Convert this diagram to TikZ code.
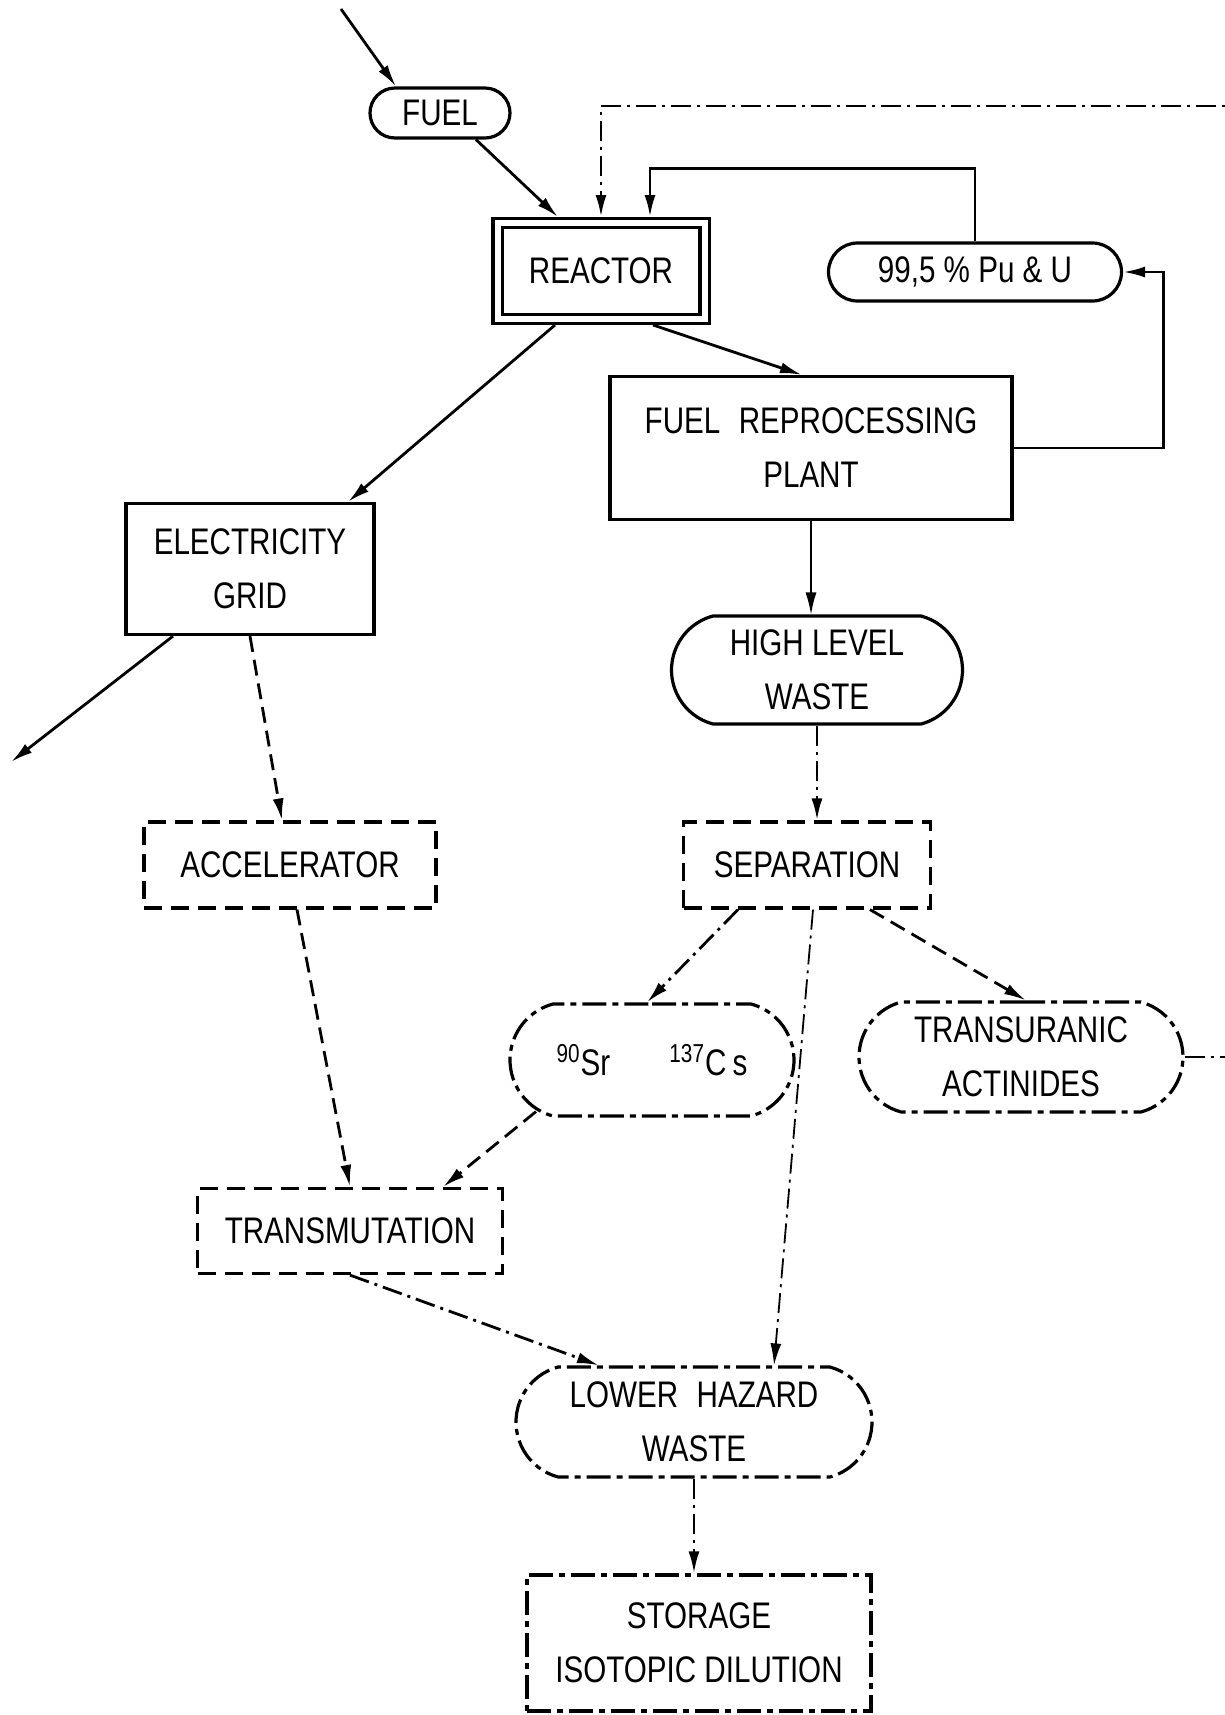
\documentclass[tikz,border=0pt]{standalone}
\usepackage{fontspec}
\setmainfont{Liberation Sans}[FakeStretch=0.8]
\usetikzlibrary{arrows.meta, shapes.misc}

\begin{document}
\begin{tikzpicture}[x=0.5pt,y=-0.5pt,
  box/.style={draw,line width=1.6pt,align=center,inner sep=0pt,
  font=\fontsize{18.5}{27}\selectfont},
  pill/.style={box,rounded rectangle},
  dbox/.style={box,dash pattern=on 9pt off 4.5pt},
  ddbox/.style={box,dash pattern=on 12pt off 3pt on 3pt off 3pt},
  arr/.style={line width=1.4pt,-{Latex[length=11pt,width=5.5pt]}},
  darr/.style={arr,dash pattern=on 8pt off 4pt},
  ddarr/.style={arr,dash pattern=on 10pt off 3pt on 1.5pt off 3pt},
]
\useasboundingbox (0,0) rectangle (1225,1715);

\node[pill,minimum width=70pt,minimum height=25pt] (fuel) at (440,113) {FUEL};
\node[box,double,line width=1.6pt,double distance=3pt,outer sep=3pt,
  minimum width=103.5pt,minimum height=48pt] (reactor) at (601,271) {REACTOR};
\node[pill,minimum width=146.5pt,minimum height=29pt] (pu) at (975,272) {99,5 \% Pu \& U};
\node[box,minimum width=201pt,minimum height=71.5pt] (frp) at (811,448)
  {FUEL\enspace REPROCESSING\\PLANT};
\node[box,minimum width=124pt,minimum height=65.5pt] (grid) at (250,569) {ELECTRICITY\\GRID};
\node[pill,rounded rectangle arc length=150,minimum width=145.5pt,minimum height=54pt]
  (hlw) at (817,670) {HIGH LEVEL\\WASTE};
\node[dbox,minimum width=146pt,minimum height=43pt] (acc) at (290,865) {ACCELERATOR};
\node[dbox,minimum width=123.5pt,minimum height=43pt] (sep) at (807,865) {SEPARATION};
\node[ddbox,rounded rectangle,rounded rectangle arc length=150,minimum width=142pt,
  minimum height=56pt] (srcs) at (652,1060)
  {\textsuperscript{90}Sr\hspace{1.6em}\textsuperscript{137}C\,s};
\node[ddbox,rounded rectangle,rounded rectangle arc length=150,minimum width=162pt,
  minimum height=55pt] (tru) at (1021,1057) {TRANSURANIC\\ACTINIDES};
\node[dbox,minimum width=152.5pt,minimum height=42.5pt] (trans) at (350,1231) {TRANSMUTATION};
\node[ddbox,rounded rectangle,rounded rectangle arc length=150,minimum width=178pt,
  minimum height=55pt] (lhw) at (694,1422) {LOWER\enspace HAZARD\\WASTE};
\node[ddbox,minimum width=172pt,minimum height=68pt] (stor) at (699,1643)
  {STORAGE\\ISOTOPIC DILUTION};

\coordinate (src) at (341,9);
\coordinate (sink) at (11,762);
\coordinate (ret) at (1250,106);

\draw[arr] (src) -- ([xshift=-22pt]fuel.north);
\draw[arr] ([xshift=18pt]fuel.south) -- ([xshift=-21.5pt]reactor.north);
\draw[arr] (pu.north) -- ++(0,-73) -| ([xshift=24.5pt]reactor.north);
\draw[arr] (frp.east) -- ++(150,0) |- (pu.east);
\draw[arr] ([xshift=26pt]reactor.south) -- ([xshift=-4.5pt]frp.north);
\draw[arr] ([xshift=-23pt]reactor.south) -- ([xshift=49pt]grid.north);
\draw[arr] ([xshift=-38.5pt]grid.south) -- (sink);
\draw[darr] (grid.south) -- ([xshift=-4pt]acc.north);
\draw[arr,line width=0.7pt] (frp.south) -- (frp.south |- hlw.north);
\draw[ddarr] (hlw.south) -- (hlw.south |- sep.north);
\draw[ddarr] ([xshift=-34.5pt]sep.south) -- ([xshift=-2.5pt]srcs.north);
\draw[darr] ([xshift=31.5pt]sep.south) -- ([xshift=2.5pt]tru.north);
\draw[ddarr,line width=0.9pt] ([xshift=3pt]sep.south) -- ([xshift=40pt]lhw.north);
\draw[darr] ([xshift=-58pt,yshift=3pt]srcs.south) -- ([xshift=46.5pt]trans.north);
\draw[darr] ([xshift=3.5pt]acc.south) -- (trans.north);
\draw[ddarr] (trans.south) -- ([xshift=-47.5pt]lhw.north);
\draw[ddarr] (lhw.south) -- (lhw.south |- stor.north);
\draw[ddarr] (tru.east) -| (ret) -| (reactor.north);
\end{tikzpicture}
\end{document}
